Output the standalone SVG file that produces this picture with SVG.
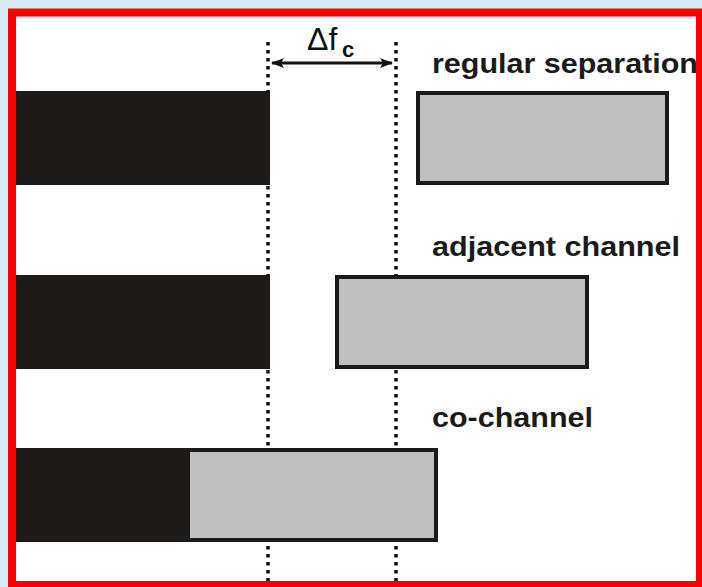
<svg xmlns="http://www.w3.org/2000/svg" width="702" height="587" viewBox="0 0 702 587">
  <defs>
    <style>
      .bar { fill: #1e1a17; }
      .band { fill: #c0c0c0; stroke: #1a1a1a; stroke-width: 4; }
      .grid { stroke: #111; stroke-width: 3.5; stroke-dasharray: 3.5 4.5; fill: none; }
      .label { font-family: "Liberation Sans", Arial, sans-serif; font-weight: bold; font-size: 28px; fill: #1a1a1a; }
      .sym { font-family: "Liberation Sans", Arial, sans-serif; fill: #111; }
    </style>
    <marker id="head" viewBox="0 0 13 10" refX="12" refY="5" markerWidth="13" markerHeight="10" markerUnits="userSpaceOnUse" orient="auto-start-reverse">
      <path d="M0,0 L13,5 L0,10 L3,5 Z" fill="#111"/>
    </marker>
  </defs>

  <!-- page background and frame -->
  <rect x="0" y="0" width="702" height="587" fill="#d6ebf4"/>
  <rect x="12" y="12.5" width="688" height="572.5" fill="#ffffff"/>

  <!-- dotted reference lines at the two carrier edges -->
  <g id="connectors">
    <line class="grid" x1="268" y1="42" x2="268" y2="587"/>
    <line class="grid" x1="396" y1="42" x2="396" y2="587"/>
    <line x1="272" y1="63" x2="392" y2="63" stroke="#111" stroke-width="3" marker-start="url(#head)" marker-end="url(#head)"/>
  </g>

  <g id="delta-fc">
    <text class="sym" x="307" y="50" font-size="32">Δf</text>
    <text class="sym" x="342" y="57" font-size="22" font-weight="bold">c</text>
  </g>

  <!-- regular separation -->
  <g id="row-regular">
    <rect class="bar" x="16" y="91" width="254" height="94"/>
    <rect class="band" x="418" y="93" width="249" height="90"/>
    <text class="label" x="432" y="73" textLength="266" lengthAdjust="spacingAndGlyphs">regular separation</text>
  </g>

  <!-- adjacent channel -->
  <g id="row-adjacent">
    <rect class="bar" x="16" y="275" width="254" height="94"/>
    <rect class="band" x="337" y="277" width="250" height="90"/>
    <text class="label" x="432" y="256" textLength="248" lengthAdjust="spacingAndGlyphs">adjacent channel</text>
  </g>

  <!-- co-channel -->
  <g id="row-cochannel">
    <rect class="bar" x="16" y="448" width="254" height="94"/>
    <rect class="band" x="188" y="450" width="248" height="90"/>
    <text class="label" x="432" y="427" textLength="161" lengthAdjust="spacingAndGlyphs">co-channel</text>
  </g>

  <!-- red frame -->
  <rect x="12" y="12.5" width="688" height="572.5" fill="none" stroke="#ff0000" stroke-width="8"/>
</svg>
